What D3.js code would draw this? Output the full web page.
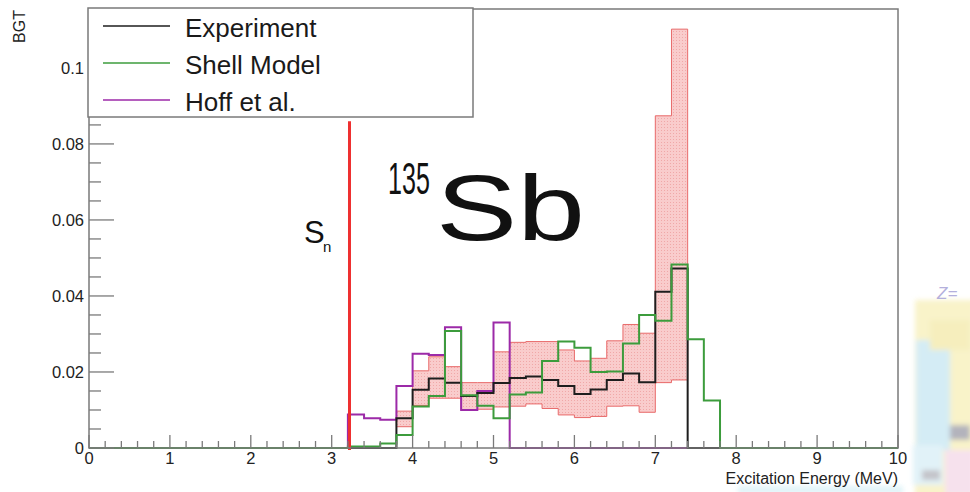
<!DOCTYPE html>
<html><head><meta charset="utf-8">
<script src="https://cdn.jsdelivr.net/npm/d3@7"></script>
<style>body{margin:0;background:#fff}svg{display:block}</style>
</head><body>
<svg id="chart" width="970" height="492"></svg>
<script>
// Bin lower edges (MeV), 0.2 MeV wide bins
const binLow = [3.2,3.4,3.6,3.8,4.0,4.2,4.4,4.6,4.8,5.0,5.2,5.4,5.6,5.8,6.0,6.2,6.4,6.6,6.8,7.0,7.2,7.4,7.6];
const binWidth = 0.2;
// B(GT) per bin
const experiment = [0,0,0,0.0078,0.0153,0.0183,0.0172,0.0137,0.0145,0.0171,0.0184,0.0188,0.0179,0.0163,0.0142,0.0154,0.0179,0.0196,0.0173,0.0411,0.0472,0,0];
const expLower   = [null,null,null,0.0056,0.0112,0.0131,0.0131,0.0100,0.0102,0.0108,0.0110,0.0116,0.0104,0.0087,0.0080,0.0083,0.0110,0.0111,0.0094,0.0172,0.0179,null,null];
const expUpper   = [null,null,null,0.0097,0.0203,0.0240,0.0214,0.0172,0.0172,0.0253,0.0278,0.0280,0.0280,0.0258,0.0229,0.0236,0.0282,0.0325,0.0302,0.0874,0.1102,null,null];
const shellModel = [0.0004,0.0004,0.0012,0.0034,0.0109,0.0137,0.0308,0.0139,0.0111,0.0078,0.0141,0.0146,0.0229,0.0280,0.0264,0.0200,0.0201,0.0275,0.0350,0.0335,0.0483,0.0286,0.0125];
const hoff       = [0.0088,0.0078,0.0074,0.0163,0.0248,0.0245,0.0318,0.0100,0.0150,0.0330,0,0,0,0,0,0,0,0,0,0,0,0,0];
const seriesNames = ["Experiment","Shell Model","Hoff et al."];
const seriesColors = ["#1e1e1e","#3c9c3c","#9c2aa8"];
const xTicks = [0,1,2,3,4,5,6,7,8,9,10];
const yTicks = [0,0.02,0.04,0.06,0.08,0.1];
const yTickLabels = ["0","0.02","0.04","0.06","0.08","0.1"];
const separationEnergy = 3.22;
const separationTop = 0.086;

const svg = d3.select("#chart");
const x = d3.scaleLinear().domain([0, 10]).range([89, 898]);
const y = d3.scaleLinear().domain([0, 0.1155]).range([448, 9]);
const font = "'Liberation Sans', Arial, sans-serif";

// dotted pink fill for the experimental uncertainty band
const defs = svg.append("defs");
const pat = defs.append("pattern").attr("id","dots").attr("patternUnits","userSpaceOnUse")
  .attr("width",3).attr("height",3);
pat.append("rect").attr("width",3).attr("height",3).attr("fill","#f9cccc");
pat.append("rect").attr("x",1).attr("y",1).attr("width",1).attr("height",1).attr("fill","#f0a8a8");
defs.append("filter").attr("id","soft").append("feGaussianBlur").attr("stdDeviation",2.5);

// nuclide-chart fragment at the right edge
const deco = svg.append("g").attr("filter","url(#soft)").attr("opacity",0.75);
[[915,300,60,200,"#f7efb8"],[916,340,34,110,"#c6e6f2"],[930,320,40,30,"#f3e9a8"],
 [913,445,30,40,"#d8eef6"],[945,450,30,45,"#f4d8e8"],[922,470,18,10,"#b0b0b8"],
 [950,425,20,15,"#9a9aa6"],[738,486,165,8,"#d6f0f6"]]
 .forEach(r => deco.append("rect").attr("x",r[0]).attr("y",r[1]).attr("width",r[2]).attr("height",r[3]).attr("fill",r[4]));
svg.append("text").attr("x",937).attr("y",299).attr("font-family",font).attr("font-size",17)
  .attr("font-style","italic").attr("fill","#b4b0dc").text("Z=");

// uncertainty band
const bandIdx = d3.range(binLow.length).filter(i => expLower[i] !== null);
const bandPts = bandIdx.map(i => ({e: binLow[i], lo: expLower[i], hi: expUpper[i]}));
const lastB = bandPts[bandPts.length-1];
bandPts.push({e: lastB.e + binWidth, lo: lastB.lo, hi: lastB.hi});
svg.append("path").datum(bandPts)
  .attr("d", d3.area().curve(d3.curveStepAfter).x(d => x(d.e)).y0(d => y(d.lo)).y1(d => y(d.hi)))
  .attr("fill","url(#dots)").attr("stroke","#e86a6a").attr("stroke-width",1);

// step histograms over the full axis range
function histPoints(vals) {
  const pts = [{e:0, v:0}];
  vals.forEach((v,i) => pts.push({e: binLow[i], v}));
  pts.push({e: binLow[binLow.length-1] + binWidth, v: 0});
  pts.push({e: 10, v: 0});
  return pts;
}
const step = d3.line().curve(d3.curveStepAfter).x(d => x(d.e)).y(d => y(d.v));
[[hoff,2],[experiment,0],[shellModel,1]].forEach(([vals,k]) => {
  svg.append("path").datum(histPoints(vals)).attr("d", step)
    .attr("fill","none").attr("stroke", seriesColors[k]).attr("stroke-width",2);
});

// neutron separation energy
svg.append("line").attr("x1",x(separationEnergy)).attr("x2",x(separationEnergy))
  .attr("y1",y(0)+2).attr("y2",y(separationTop)).attr("stroke","#ee3030").attr("stroke-width",3);

// frame
svg.append("rect").attr("x",89).attr("y",9).attr("width",809).attr("height",439)
  .attr("fill","none").attr("stroke","#7a7a7a").attr("stroke-width",1.5);

// x axis ticks (pointing inward) and labels
const xMinor = d3.range(0, 10.0001, 0.2);
svg.append("g").selectAll("line").data(xMinor).join("line")
  .attr("x1", d => x(d)).attr("x2", d => x(d)).attr("y1", y(0))
  .attr("y2", d => y(0) - (Math.abs(d - Math.round(d)) < 1e-6 ? 13 : 7))
  .attr("stroke","#7a7a7a").attr("stroke-width",1.3);
svg.append("g").selectAll("text").data(xTicks).join("text")
  .attr("x", d => x(d)).attr("y", 464).attr("text-anchor","middle")
  .attr("font-family",font).attr("font-size",16.5).attr("fill","#222").text(d => d);

// y axis ticks and labels
const yMinor = d3.range(0, 0.1151, 0.005);
svg.append("g").selectAll("line").data(yMinor).join("line")
  .attr("y1", d => y(d)).attr("y2", d => y(d)).attr("x1", x(0))
  .attr("x2", d => x(0) + (Math.abs(d/0.02 - Math.round(d/0.02)) < 1e-6 ? 25 : 12))
  .attr("stroke","#7a7a7a").attr("stroke-width",1.3);
svg.append("g").selectAll("text").data(yTicks).join("text")
  .attr("x", 84).attr("y", d => y(d) + 6).attr("text-anchor","end")
  .attr("font-family",font).attr("font-size",16.5).attr("fill","#222").text((d,i) => yTickLabels[i]);

// axis titles
svg.append("text").attr("x",898).attr("y",484).attr("text-anchor","end")
  .attr("font-family",font).attr("font-size",16).attr("fill","#222").text("Excitation Energy (MeV)");
svg.append("text").attr("transform","translate(25,10) rotate(-90)").attr("text-anchor","end")
  .attr("font-family",font).attr("font-size",16).attr("fill","#222").text("BGT");

// legend
const leg = svg.append("g");
leg.append("rect").attr("x",88).attr("y",8).attr("width",385).attr("height",109)
  .attr("fill","#fff").attr("stroke","#7a7a7a").attr("stroke-width",1.5);
seriesNames.forEach((name,i) => {
  const ly = 26 + i*37;
  leg.append("line").attr("x1",103).attr("x2",170).attr("y1",ly).attr("y2",ly)
    .attr("stroke",seriesColors[i]).attr("stroke-width",1.5);
  leg.append("text").attr("x",185).attr("y",ly+11).attr("font-family",font)
    .attr("font-size",26).attr("fill","#1a1a1a").text(name);
});

// annotations
svg.append("text").attr("x",304).attr("y",243).attr("font-family",font).attr("font-size",31)
  .attr("fill","#111").text("S");
svg.append("text").attr("x",323).attr("y",252).attr("font-family",font).attr("font-size",15)
  .attr("fill","#111").text("n");
// isotope label: narrow mass number, wide element symbol
svg.append("text").attr("transform","translate(388,194) scale(0.57,1)")
  .attr("font-family",font).attr("font-size",44).attr("fill","#111").text("135");
svg.append("text").attr("transform","translate(436,240) scale(1.31,1)")
  .attr("font-family",font).attr("font-size",93).attr("fill","#111").text("Sb");
</script>
</body></html>
